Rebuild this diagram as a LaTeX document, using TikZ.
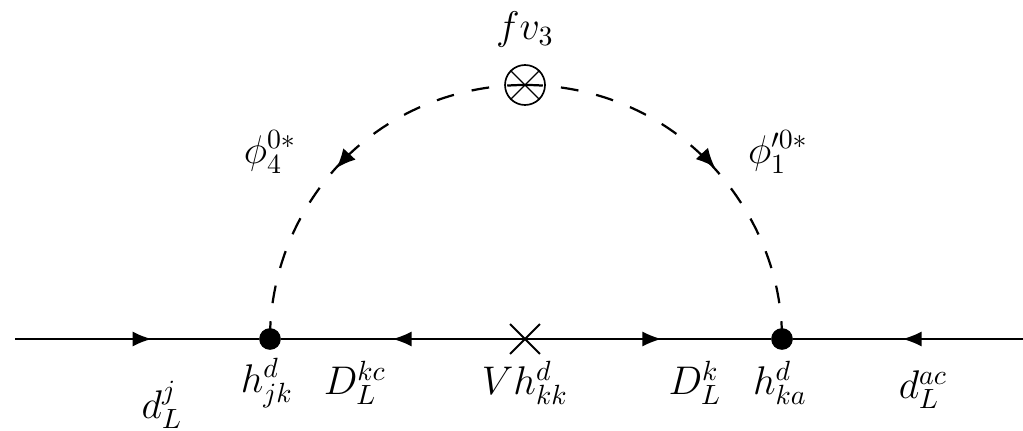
\documentclass[tikz,border=0pt]{standalone}
\usepackage{tikz}
\usetikzlibrary{arrows.meta,decorations.markings,shapes.misc}
\tikzset{
  fermion/.style={line width=1pt,postaction={decorate},decoration={markings,mark=at position #1 with {\arrow[line width=0.5pt]{Latex[length=6.8pt,width=5.4pt]}}}},
  scalar/.style={line width=0.8pt,dash pattern=on 6.4pt off 6.56pt,looseness=0.885},
  scalarhead/.style={postaction={decorate},decoration={markings,mark=at position 0.53 with {\arrow[line width=0.5pt]{Latex[length=6.8pt,width=6pt]}}}},
  vertex/.style={circle,fill=black,inner sep=0pt,minimum size=7.8pt},
  mass/.style={cross out,draw=black,line width=0.75pt,inner sep=0pt,minimum size=10pt},
  vev/.style={circle,draw=black,line width=0.6pt,inner sep=0pt,minimum size=14.4pt},
  lab/.style={font=\Large,inner sep=0pt}
}
\begin{document}
\begin{tikzpicture}[x=0.36pt,y=-0.36pt]
  \useasboundingbox (0,0) rectangle (1023,430);
  % fermion line
  \coordinate (start) at (15,339);
  \coordinate (end) at (1023,339);
  \coordinate (midl) at (344.7,158.7);
  \coordinate (midr) at (705.3,158.7);
  \node[vertex] (hjk) at (270,339) {};
  \node[vertex] (hka) at (782,339) {};
  \node[mass] (cross) at (525,339) {};
  \node[vev] (insert) at (525,85) {};
  \draw[fermion=0.56] (start) -- (hjk);
  \draw[fermion=0.543] (cross.center) -- (hjk);
  \draw[fermion=0.555] (cross.center) -- (hka);
  \draw[fermion=0.524] (end) -- (hka);
  % scalar arc, each half dashed from its outer end
  \draw[scalar] (hjk.center) to[out=90,in=225] (midl);
  \draw[scalar] (insert.center) to[out=180,in=45] (midl);
  \draw[scalar] (hka.center) to[out=90,in=-45] (midr);
  \draw[scalar] (insert.center) to[out=0,in=135] (midr);
  \path[scalarhead] (insert.center) to[out=180,in=90] (hjk.center);
  \path[scalarhead] (insert.center) to[out=0,in=90] (hka.center);
  % insertion
  \draw[line width=0.5pt] (insert.45) -- (insert.225);
  \draw[line width=0.5pt] (insert.135) -- (insert.315);
  % labels
  \node[lab] (lfv) at (525,30) {$fv_3$};
  \node[lab] (lphi) at (270,152) {$\phi_4^{0*}$};
  \node[lab] (lphip) at (778,152) {$\phi_1^{\prime 0*}$};
  \node[lab] (ldj) at (162,405) {$d_L^j$};
  \node[lab] (lhjk) at (267,383) {$h_{jk}^d$};
  \node[lab] (lDkc) at (355,383) {$D_L^{kc}$};
  \node[lab] (lVh) at (525,383) {$Vh_{kk}^d$};
  \node[lab] (lDk) at (695,383) {$D_L^k$};
  \node[lab] (lhka) at (780,383) {$h_{ka}^d$};
  \node[lab] (ldac) at (923,390) {$d_L^{ac}$};
\end{tikzpicture}
\end{document}
